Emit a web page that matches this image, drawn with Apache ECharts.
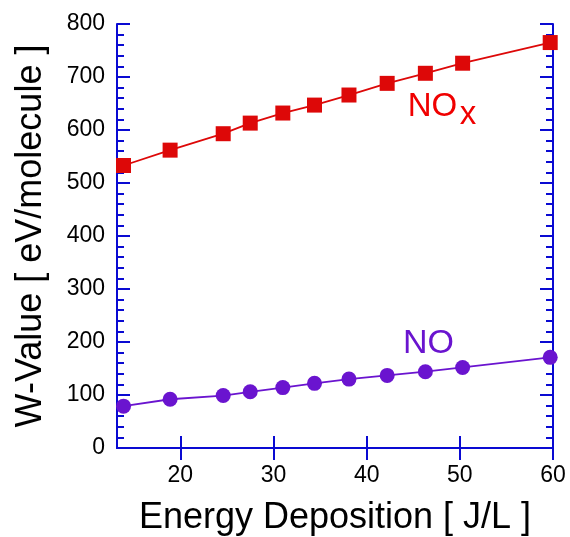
<!DOCTYPE html>
<html><head><meta charset="utf-8">
<script src="https://cdn.jsdelivr.net/npm/echarts@6/dist/echarts.min.js"></script>
<style>html,body{margin:0;padding:0;background:#fff}#c{width:570px;height:537px}</style>
</head><body><div id="c"></div>
<script>
const energyNOx = [13.9, 18.9, 24.6, 27.5, 31.0, 34.4, 38.1, 42.2, 46.3, 50.3, 59.7];
const wNOx      = [533, 562, 593, 613, 632, 647, 666, 688, 707, 726, 765];
const energyNO  = [13.9, 18.9, 24.6, 27.5, 31.0, 34.4, 38.1, 42.2, 46.3, 50.3, 59.7];
const wNO       = [79, 92, 99, 106, 114, 122, 130, 137, 144, 152, 171];
const xTicks = [20, 30, 40, 50, 60];

const axisBlue = '#0a0ad2';
const red = '#dd0808';
const redText = '#f00000';
const purple = '#6a14cf';
const font = 'Liberation Sans, Arial, sans-serif';

const chart = echarts.init(document.getElementById('c'));
const xCommon = {
  type: 'value', min: 13.2, max: 60,
  axisLine: {show: true, lineStyle: {color: axisBlue, width: 2}},
  splitLine: {show: false},
  axisTick: {show: true, inside: true, length: 12, lineStyle: {color: axisBlue, width: 2}, customValues: xTicks},
};
const yCommon = {
  type: 'value', min: 0, max: 800, interval: 100,
  axisLine: {show: true, lineStyle: {color: axisBlue, width: 2}},
  splitLine: {show: false},
  axisTick: {show: true, inside: true, length: 13, lineStyle: {color: axisBlue, width: 2}},
  minorTick: {show: true, splitNumber: 5, length: 7, lineStyle: {color: axisBlue, width: 2}},
};
chart.setOption({
  animation: false,
  grid: {left: 117, right: 17, top: 24, bottom: 89, containLabel: false, outerBoundsMode: 'none'},
  xAxis: [
    Object.assign({}, xCommon, {position: 'bottom',
      axisLabel: {customValues: xTicks, color: '#000', fontSize: 23, fontFamily: font, margin: 16},
      name: 'Energy Deposition [ J/L ]', nameLocation: 'middle', nameGap: 52,
      nameTextStyle: {color: '#000', fontSize: 36, fontFamily: font}}),
    Object.assign({}, xCommon, {position: 'top', axisLabel: {show: false}})
  ],
  yAxis: [
    Object.assign({}, yCommon, {position: 'left',
      axisLabel: {color: '#000', fontSize: 23, fontFamily: font, margin: 12},
      name: 'W-Value [ eV/molecule ]', nameLocation: 'middle', nameGap: 68,
      nameTextStyle: {color: '#000', fontSize: 36, fontFamily: font}}),
    Object.assign({}, yCommon, {position: 'right', axisLabel: {show: false}})
  ],
  series: [
    {type: 'line', data: energyNOx.map((e, i) => [e, wNOx[i]]),
     symbol: 'rect', symbolSize: 15, lineStyle: {color: red, width: 1.8},
     itemStyle: {color: red}},
    {type: 'line', data: energyNO.map((e, i) => [e, wNO[i]]),
     symbol: 'circle', symbolSize: 15, lineStyle: {color: purple, width: 1.8},
     itemStyle: {color: purple}}
  ]
});
const pNO1 = chart.convertToPixel({gridIndex: 0}, [44.4, 644]);
const pX = chart.convertToPixel({gridIndex: 0}, [50.0, 628]);
const pNO = chart.convertToPixel({gridIndex: 0}, [43.9, 196]);
chart.setOption({graphic: [
  {type: 'text', x: pNO1[0], y: pNO1[1],
   style: {text: 'NO', fontSize: 33, fontFamily: font, fill: redText, verticalAlign: 'middle'}},
  {type: 'text', x: pX[0], y: pX[1],
   style: {text: 'x', fontSize: 33, fontFamily: font, fill: redText, verticalAlign: 'middle'}},
  {type: 'text', x: pNO[0], y: pNO[1],
   style: {text: 'NO', fontSize: 34, fontFamily: font, fill: purple, verticalAlign: 'middle'}}
]});
</script></body></html>
